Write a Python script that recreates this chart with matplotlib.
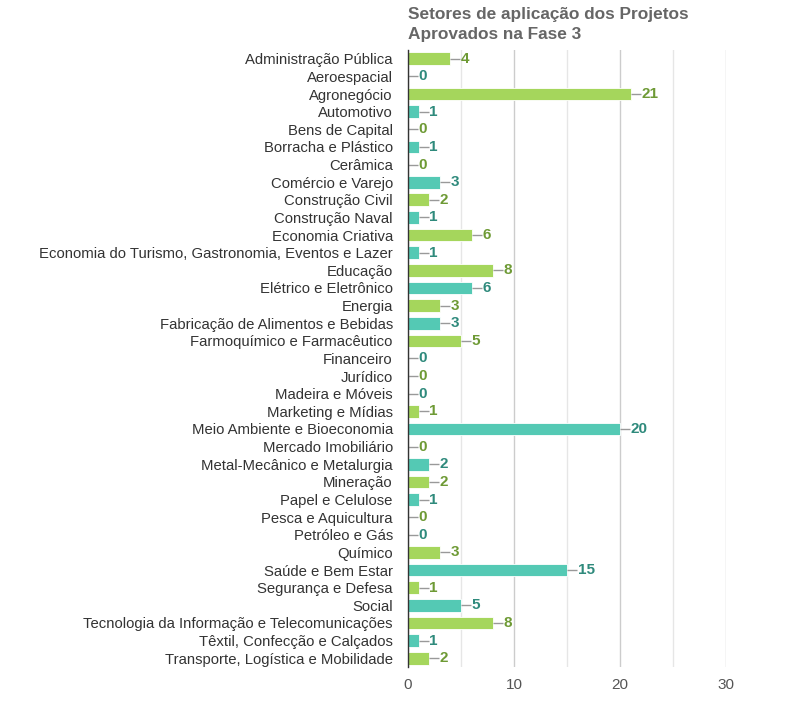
import matplotlib.pyplot as plt

setores = [
    "Administração Pública", "Aeroespacial", "Agronegócio", "Automotivo",
    "Bens de Capital", "Borracha e Plástico", "Cerâmica", "Comércio e Varejo",
    "Construção Civil", "Construção Naval", "Economia Criativa",
    "Economia do Turismo, Gastronomia, Eventos e Lazer", "Educação",
    "Elétrico e Eletrônico", "Energia", "Fabricação de Alimentos e Bebidas",
    "Farmoquímico e Farmacêutico", "Financeiro", "Jurídico", "Madeira e Móveis",
    "Marketing e Mídias", "Meio Ambiente e Bioeconomia", "Mercado Imobiliário",
    "Metal-Mecânico e Metalurgia", "Mineração", "Papel e Celulose",
    "Pesca e Aquicultura", "Petróleo e Gás", "Químico", "Saúde e Bem Estar",
    "Segurança e Defesa", "Social", "Tecnologia da Informação e Telecomunicações",
    "Têxtil, Confecção e Calçados", "Transporte, Logística e Mobilidade",
]
projetos = [4, 0, 21, 1, 0, 1, 0, 3, 2, 1, 6, 1, 8, 6, 3, 3, 5, 0, 0, 0,
            1, 20, 0, 2, 2, 1, 0, 0, 3, 15, 1, 5, 8, 1, 2]

VERDE = "#a5d65c"
TURQUESA = "#54c9b4"
TEXTO_VERDE = "#6e9a35"
TEXTO_TURQUESA = "#2f8a7c"

plt.rcParams["font.family"] = ["Liberation Sans", "DejaVu Sans"]


def main():
    fig = plt.figure(figsize=(7.96, 7.04), dpi=100)
    ax = fig.add_axes([0.5126, 0.0526, 0.912 - 0.5126, 0.929 - 0.0526])

    n = len(setores)
    pos = list(range(n))
    cores = [VERDE if i % 2 == 0 else TURQUESA for i in pos]
    cores_txt = [TEXTO_VERDE if i % 2 == 0 else TEXTO_TURQUESA for i in pos]

    ax.barh(pos, projetos, height=0.72, color=cores, edgecolor="#ffffff",
            linewidth=0.6, zorder=3)

    for i, v in enumerate(projetos):
        ax.plot([v, v + 0.95], [i, i], color="#999999", lw=1, zorder=3,
                solid_capstyle="butt")
        ax.text(v + 1.0, i, str(v), va="center", ha="left", fontsize=11,
                fontweight="bold", color=cores_txt[i], zorder=4)

    ax.set_xlim(0, 30)
    ax.set_ylim(n - 0.5, -0.5)
    ax.set_yticks(pos)
    ax.set_yticklabels(setores, fontsize=10.7, color="#333333")
    ax.set_xticks([0, 10, 20, 30])
    ax.set_xticks([5, 15, 25], minor=True)
    ax.tick_params(axis="x", which="both", length=0, labelsize=11,
                   labelcolor="#555555", pad=8)
    ax.tick_params(axis="y", length=0, pad=11)

    ax.grid(axis="x", which="major", color="#cccccc", lw=1, zorder=0)
    ax.grid(axis="x", which="minor", color="#e6e6e6", lw=1, zorder=0)

    for lado in ["top", "right", "bottom"]:
        ax.spines[lado].set_visible(False)
    ax.spines["left"].set_color("#333333")
    ax.spines["left"].set_linewidth(1)
    ax.spines["left"].set_zorder(5)

    fig.text(408 / 796, 1 - 7 / 704, "Setores de aplicação dos Projetos\nAprovados na Fase 3",
             ha="left", va="top", fontsize=12.4, fontweight="bold",
             color="#666666", linespacing=1.4)

    fig.savefig("out.png", dpi=100)


if __name__ == "__main__":
    main()
